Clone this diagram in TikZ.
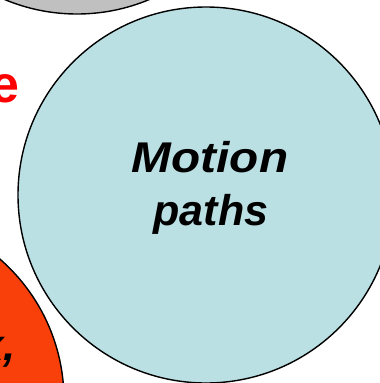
\documentclass[tikz,border=0pt]{standalone}
\usepackage{fontspec}
\setmainfont{Liberation Sans}
\newfontfamily\widesans[FakeStretch=1.11]{Liberation Sans}
\definecolor{circgray}{RGB}{192,192,192}
\definecolor{circblue}{RGB}{186,224,228}
\definecolor{circorange}{RGB}{250,64,10}
\definecolor{titlered}{RGB}{255,0,0}
\tikzset{
  bubble/.style={circle, draw=black, line width=1.4pt, inner sep=0pt, minimum size=#1},
  bigtext/.style={font=\fontsize{43}{50}\selectfont\bfseries\itshape, inner sep=0pt, anchor=base},
}
\begin{document}
\begin{tikzpicture}[x=1pt,y=-1pt]
\useasboundingbox (0,0) rectangle (380,383);
\clip (0,0) rectangle (380,383);
\fill[white] (0,0) rectangle (380,383);
\node[bubble=374pt, fill=circgray] (gray) at (77,-173) {};
\node[bubble=376pt, fill=circblue] (blue) at (206,195) {};
\node[bubble=374pt, fill=circorange] (orange) at (-123,400) {};
\node[bigtext, font=\widesans\fontsize{43}{50}\selectfont\bfseries\itshape] (t1) at (210,172) {Motion};
\node[bigtext] (t2) at (211,225) {paths};
\node[font=\fontsize{52}{60}\selectfont\bfseries, text=titlered, inner sep=0pt, anchor=base east] (e) at (20,102) {e};
\node[font=\fontsize{44}{50}\selectfont\bfseries\itshape, inner sep=0pt, anchor=base east] (x) at (16,360) {x,};
\end{tikzpicture}
\end{document}
